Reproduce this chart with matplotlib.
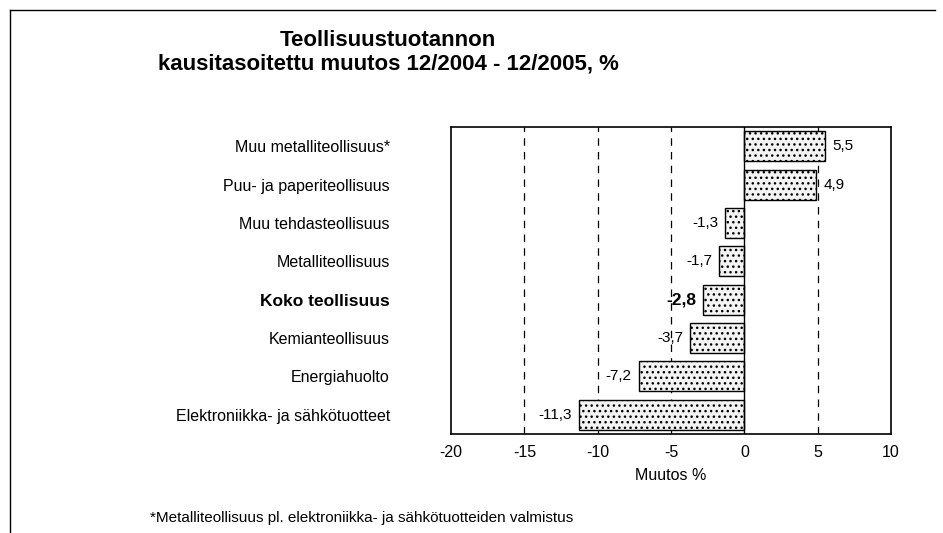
import matplotlib.pyplot as plt
from matplotlib.lines import Line2D

plt.rcParams['font.family'] = ['Liberation Sans', 'DejaVu Sans']
plt.rcParams['hatch.color'] = '#c4c4c4'

categories = ['Muu metalliteollisuus*', 'Puu- ja paperiteollisuus', 'Muu tehdasteollisuus',
              'Metalliteollisuus', 'Koko teollisuus', 'Kemianteollisuus', 'Energiahuolto',
              'Elektroniikka- ja sähkötuotteet']
values = [5.5, 4.9, -1.3, -1.7, -2.8, -3.7, -7.2, -11.3]
bold_category = 'Koko teollisuus'
xticks = [-20, -15, -10, -5, 0, 5, 10]

fig = plt.figure(figsize=(9.43, 5.33), dpi=100)
ax = fig.add_axes([451/943, 1-434/533, 440/943, 307/533])

ypos = list(range(len(categories)))[::-1]
ax.barh(ypos, values, height=0.78, color='#f3f3f3', edgecolor='black', linewidth=1.0,
        hatch='...', zorder=3)

# dashed grid lines, solid line at zero
for x in [-15, -10, -5, 5]:
    ax.axvline(x, color='black', linestyle=(0, (6, 5)), linewidth=0.9, zorder=1)
ax.axvline(0, color='black', linewidth=1.0, zorder=4)

ax.set_xlim(-20, 10)
ax.set_ylim(-0.5, len(categories) - 0.5)
ax.set_xticks(xticks)
ax.set_xticklabels([str(t) for t in xticks], fontsize=11.5)
ax.tick_params(axis='x', length=0, pad=8)
ax.set_yticks(ypos)
ax.set_yticklabels(categories, fontsize=11.5)
ax.tick_params(axis='y', length=0, pad=44)
for lab in ax.get_yticklabels():
    if lab.get_text() == bold_category:
        lab.set_fontweight('bold')
        lab.set_fontsize(12.5)
for s in ax.spines.values():
    s.set_linewidth(1.2)

for y, v, c in zip(ypos, values, categories):
    txt = f'{v:.1f}'.replace('.', ',')
    w = 'bold' if c == bold_category else 'normal'
    fs = 12.5 if c == bold_category else 11
    if v >= 0:
        ax.annotate(txt, (v, y), xytext=(5, 0), textcoords='offset points',
                    ha='left', va='center', fontsize=fs, fontweight=w)
    else:
        ax.annotate(txt, (v, y), xytext=(-5, 0), textcoords='offset points',
                    ha='right', va='center', fontsize=fs, fontweight=w)

ax.set_xlabel('Muutos %', fontsize=11.5, labelpad=6)

fig.text(388/943, 1-41/533, 'Teollisuustuotannon', ha='center', va='center',
         fontsize=16, fontweight='bold')
fig.text(388/943, 1-64/533, 'kausitasoitettu muutos 12/2004 - 12/2005, %', ha='center',
         va='center', fontsize=16, fontweight='bold')
fig.text(150/943, 1-518/533, '*Metalliteollisuus pl. elektroniikka- ja sähkötuotteiden valmistus',
         ha='left', va='center', fontsize=11)

# frame lines of the chart area
fig.add_artist(Line2D([10/943, 10/943], [0, 1-10/533], color='black', linewidth=1.0))
fig.add_artist(Line2D([10/943, 935/943], [1-10/533, 1-10/533], color='black', linewidth=1.0))

fig.savefig('out.png', dpi=100)
